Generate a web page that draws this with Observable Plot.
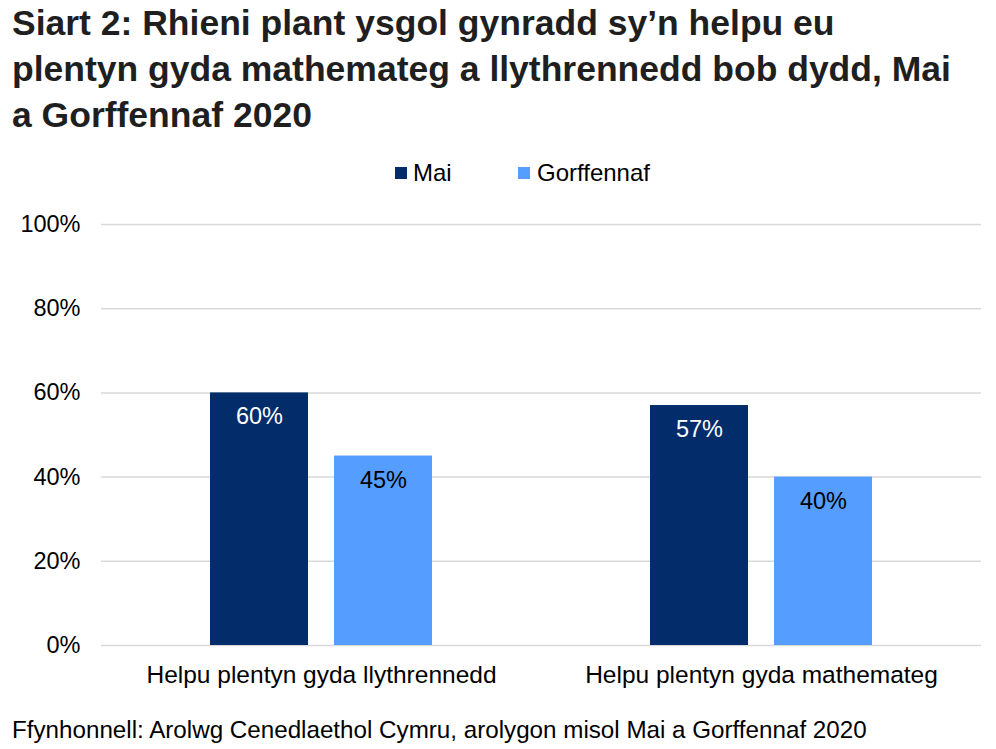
<!DOCTYPE html>
<html>
<head>
<meta charset="utf-8">
<script src="https://cdn.jsdelivr.net/npm/d3@7"></script>
<script src="https://cdn.jsdelivr.net/npm/@observablehq/plot@0.6"></script>
<style>
  body { margin: 0; background: #fff; font-family: "Liberation Sans", Arial, sans-serif; width: 996px; height: 749px; position: relative; overflow: hidden; }
  #title { position: absolute; left: 12px; top: 0px; font-size: 35.5px; line-height: 46px; font-weight: bold; color: #1f1f1f; white-space: nowrap; }
  #legend { position: absolute; top: 159px; left: 0; width: 996px; font-size: 24px; color: #000; }
  .sw { position: absolute; width: 12px; height: 12px; top: 8px; }
  .lt { position: absolute; top: 0; line-height: 28px; }
  #chart { position: absolute; top: 150px; left: 0; }
  #caption { position: absolute; left: 12px; top: 716px; font-size: 24.2px; line-height: 28px; color: #000; white-space: nowrap; }
</style>
</head>
<body>
<div id="title">Siart 2: Rhieni plant ysgol gynradd sy’n helpu eu<br>plentyn gyda mathemateg a llythrennedd bob dydd, Mai<br>a Gorffennaf 2020</div>
<div id="legend"></div>
<div id="chart"></div>
<div id="caption">Ffynhonnell: Arolwg Cenedlaethol Cymru, arolygon misol Mai a Gorffennaf 2020</div>
<script>
const categories = ["Helpu plentyn gyda llythrennedd", "Helpu plentyn gyda mathemateg"];
const periods = ["Mai", "Gorffennaf"];
const maiValues = [60, 57];
const gorffennafValues = [45, 40];
const colors = ["#022d6a", "#559dfe"];
const labelColors = ["#ffffff", "#000000"];
const yTicks = [0, 20, 40, 60, 80, 100];

const data = [];
categories.forEach((c, i) => {
  data.push({cat: c, period: periods[0], value: maiValues[i]});
  data.push({cat: c, period: periods[1], value: gorffennafValues[i]});
});

// legend
const legend = document.getElementById("legend");
const legendPos = [[395, 413], [518, 537]];
periods.forEach((p, i) => {
  const sw = document.createElement("div");
  sw.className = "sw"; sw.style.left = legendPos[i][0] + "px"; sw.style.background = colors[i];
  legend.appendChild(sw);
  const t = document.createElement("div");
  t.className = "lt"; t.style.left = legendPos[i][1] + "px"; t.textContent = p;
  legend.appendChild(t);
});

const chart = Plot.plot({
  width: 996,
  height: 550,
  marginLeft: 100,
  marginRight: 15,
  marginTop: 74,
  marginBottom: 55,
  style: {fontFamily: "Liberation Sans, Arial, sans-serif", fontSize: "23.5px", color: "#000", background: "transparent"},
  fx: {domain: categories, padding: 0, label: null, axis: "bottom", tickSize: 0, tickPadding: 20},
  x: {domain: periods, paddingInner: 0.208, paddingOuter: 0.866, axis: null},
  y: {domain: [0, 100], ticks: yTicks, tickFormat: d => d + "%", label: null, tickSize: 0, tickPadding: 21},
  color: {domain: periods, range: colors},
  marks: [
    Plot.ruleY(yTicks, {stroke: "#d9d9d9", strokeWidth: 1.5}),
    Plot.barY(data, {fx: "cat", x: "period", y: "value", fill: "period"}),
    Plot.text(data, {fx: "cat", x: "period", y: "value", text: d => d.value + "%", dy: 24, fill: d => labelColors[periods.indexOf(d.period)], fontSize: 23.5})
  ]
});
chart.querySelectorAll("[aria-label='fx-axis tick label'] text, [aria-label='y-axis tick label'] text").forEach(t => t.setAttribute("fill", "#000"));
chart.querySelectorAll("[aria-label='fx-axis tick label']").forEach(g => g.setAttribute("font-size", "24.5"));
document.getElementById("chart").appendChild(chart);
</script>
</body>
</html>
